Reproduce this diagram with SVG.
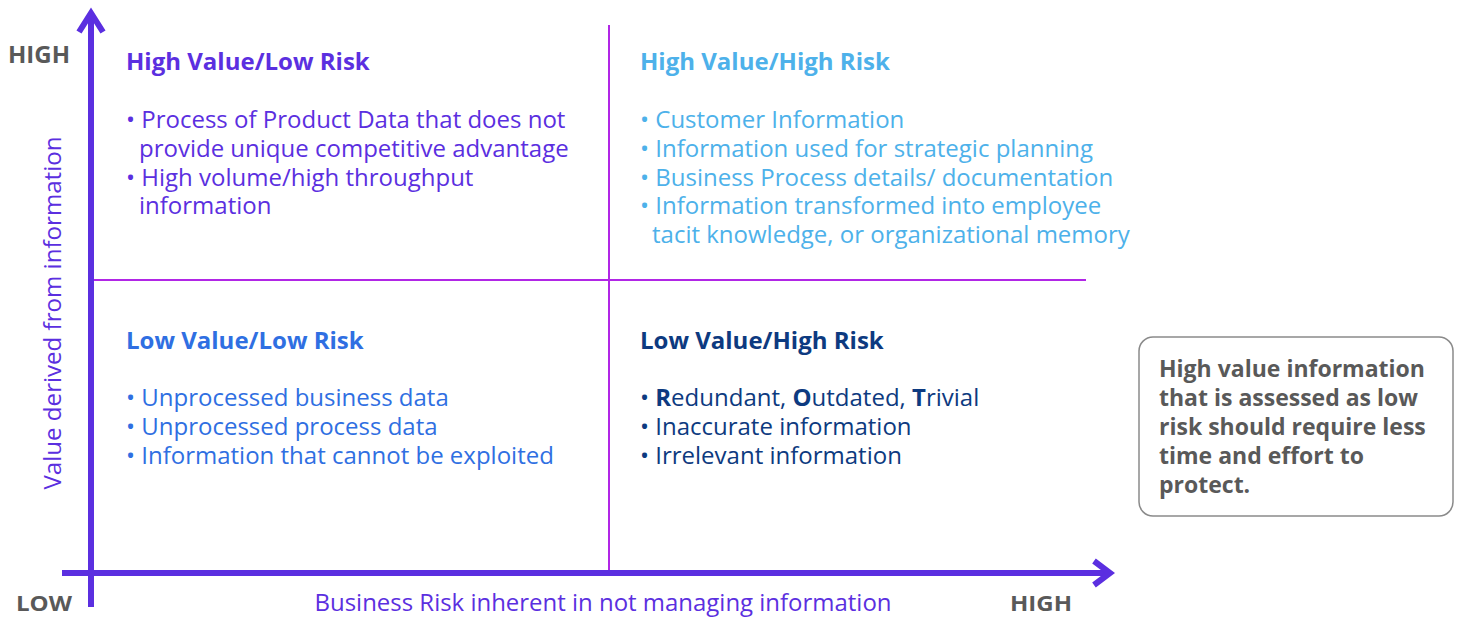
<svg xmlns="http://www.w3.org/2000/svg" width="1462" height="620" viewBox="0 0 1462 620">
<style>
text{font-family:"Open Sans","Noto Sans","Liberation Sans",sans-serif;}
.t{font-size:24px;font-weight:bold;}
.b{font-size:24px;}
.axis{stroke:#5b2fe0;stroke-width:6;fill:none;}
.div{stroke:#b126e6;stroke-width:2;fill:none;}
.g{fill:#595959;font-weight:bold;}
</style>
<rect width="1462" height="620" fill="#ffffff"/>
<g id="connectors">
<line class="div" x1="609" y1="25" x2="609" y2="573"/>
<line class="div" x1="91" y1="280" x2="1086" y2="280"/>
<line class="axis" x1="91" y1="607" x2="91" y2="14"/>
<polyline class="axis" points="79,32 91,13 103,32" stroke-linejoin="miter"/>
<line class="axis" x1="62" y1="573" x2="1108" y2="573"/>
<polyline class="axis" points="1094,561 1110,573 1094,585" stroke-linejoin="miter"/>
</g>
<g id="axis-labels">
<text class="g" x="8" y="63" font-size="23" textLength="62" lengthAdjust="spacingAndGlyphs">HIGH</text>
<text class="g" x="16" y="611" font-size="22" textLength="56" lengthAdjust="spacingAndGlyphs">LOW</text>
<text class="g" x="1010" y="611" font-size="22" textLength="62" lengthAdjust="spacingAndGlyphs">HIGH</text>
<text x="603" y="611" font-size="23" fill="#5b2fe0" text-anchor="middle" textLength="577" lengthAdjust="spacingAndGlyphs">Business Risk inherent in not managing information</text>
<text transform="translate(61,313) rotate(-90)" font-size="24" fill="#5b2fe0" text-anchor="middle" textLength="353" lengthAdjust="spacingAndGlyphs">Value derived from information</text>
</g>
<g id="q-high-value-low-risk" fill="#5b2fe0">
<text class="t" x="126" y="70">High Value/Low Risk</text>
<text class="b" x="126" y="128">• Process of Product Data that does not</text>
<text class="b" x="139" y="157">provide unique competitive advantage</text>
<text class="b" x="126" y="186">• High volume/high throughput</text>
<text class="b" x="139" y="214">information</text>
</g>
<g id="q-high-value-high-risk" fill="#4db1ea">
<text class="t" x="640" y="70">High Value/High Risk</text>
<text class="b" x="640" y="128">• Customer Information</text>
<text class="b" x="640" y="157">• Information used for strategic planning</text>
<text class="b" x="640" y="186">• Business Process details/ documentation</text>
<text class="b" x="640" y="214">• Information transformed into employee</text>
<text class="b" x="652" y="243">tacit knowledge, or organizational memory</text>
</g>
<g id="q-low-value-low-risk" fill="#2f6fe2">
<text class="t" x="126" y="349">Low Value/Low Risk</text>
<text class="b" x="126" y="406">• Unprocessed business data</text>
<text class="b" x="126" y="435">• Unprocessed process data</text>
<text class="b" x="126" y="464">• Information that cannot be exploited</text>
</g>
<g id="q-low-value-high-risk" fill="#0d3a80">
<text class="t" x="640" y="349">Low Value/High Risk</text>
<text class="b" x="640" y="406">• <tspan font-weight="bold">R</tspan>edundant, <tspan font-weight="bold">O</tspan>utdated, <tspan font-weight="bold">T</tspan>rivial</text>
<text class="b" x="640" y="435">• Inaccurate information</text>
<text class="b" x="640" y="464">• Irrelevant information</text>
</g>
<g id="note">
<rect x="1139" y="337" width="314" height="179" rx="14" fill="#ffffff" stroke="#8a8a8a" stroke-width="1.5"/>
<text class="g" font-size="23" x="1159" y="377">High value information</text>
<text class="g" font-size="23" x="1159" y="406">that is assessed as low</text>
<text class="g" font-size="23" x="1159" y="435">risk should require less</text>
<text class="g" font-size="23" x="1159" y="464">time and effort to</text>
<text class="g" font-size="23" x="1159" y="493">protect.</text>
</g>
</svg>
